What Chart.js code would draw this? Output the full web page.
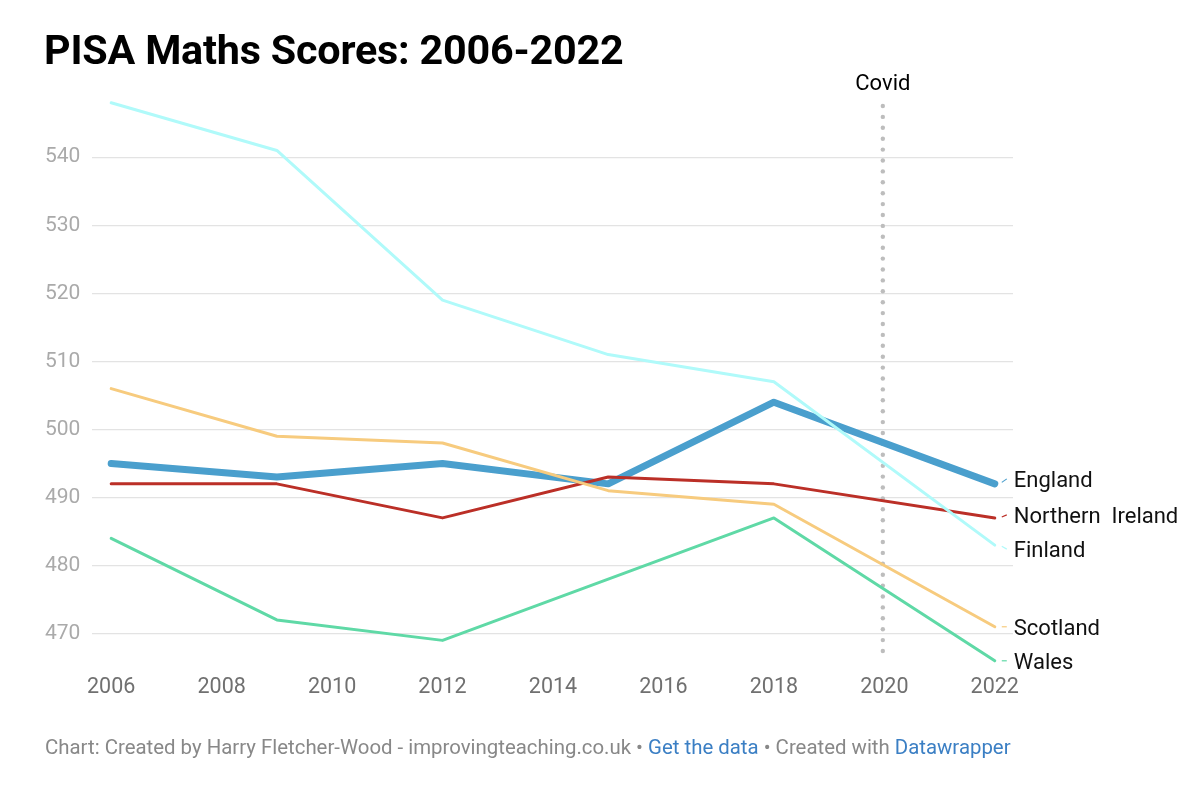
<!DOCTYPE html>
<html>
<head>
<meta charset="utf-8">
<script src="https://cdn.jsdelivr.net/npm/chart.js@4.4.0/dist/chart.umd.min.js"></script>
<style>
  html, body { margin:0; padding:0; background:#fff; width:1200px; height:788px; overflow:hidden; font-family: Roboto, sans-serif; }
  #title { position:absolute; left:44px; top:26px; font-size:41.3px; font-weight:700; color:#000; letter-spacing:-0.2px; }
  #wrap { position:absolute; left:0; top:0; width:1200px; height:788px; }
  #footer { position:absolute; left:45px; top:735px; font-size:20.4px; color:#888; }
  #footer .lnk { color:#3b7fc4; }
</style>
</head>
<body>
<div id="wrap"><canvas id="c" width="1200" height="788"></canvas></div>
<div id="title">PISA Maths Scores: 2006-2022</div>
<div id="footer">Chart: Created by Harry Fletcher-Wood - improvingteaching.co.uk • <span class="lnk">Get the data</span> • Created with <span class="lnk">Datawrapper</span></div>
<script>
const years = [2006, 2009, 2012, 2015, 2018, 2022];
const xTicks = [2006, 2008, 2010, 2012, 2014, 2016, 2018, 2020, 2022];
const yTicks = [470, 480, 490, 500, 510, 520, 530, 540];
const finland = [548, 541, 519, 511, 507, 483];
const england = [495, 493, 495, 492, 504, 492];
const scotland = [506, 499, 498, 491, 489, 471];
const northernIreland = [492, 492, 487, 493, 492, 487];
const wales = [484, 472, 469, 478, 487, 466];
const covidYear = 2020;
const covidLabel = 'Covid';

function pts(arr) { return years.map((y, i) => ({ x: y, y: arr[i] })); }

const series = [
  { label: 'Finland', data: finland, color: '#b0fafa', width: 3, nudge: 4 },
  { label: 'Scotland', data: scotland, color: '#f7cb7e', width: 3, nudge: 0 },
  { label: 'Wales', data: wales, color: '#5fd9a6', width: 3, nudge: 0 },
  { label: 'Northern  Ireland', data: northernIreland, color: '#bb2f27', width: 3, nudge: -3 },
  { label: 'England', data: england, color: '#4a9fcd', width: 7, nudge: -5 },
];

const covidPlugin = {
  id: 'covid',
  beforeDatasetsDraw(chart) {
    const { ctx, scales } = chart;
    const x = scales.x.getPixelForValue(covidYear) - 1.5;
    const top = 106, bottom = chart.chartArea.bottom - 8;
    ctx.save();
    ctx.fillStyle = '#bdbdbd';
    for (let y = top; y <= bottom; y += 10.9) {
      ctx.beginPath();
      ctx.arc(x, y, 2.2, 0, Math.PI * 2);
      ctx.fill();
    }
    ctx.fillStyle = '#000';
    ctx.font = '22px Roboto';
    ctx.textAlign = 'center';
    ctx.textBaseline = 'middle';
    ctx.fillText(covidLabel, x, 84);
    ctx.restore();
  }
};

const labelPlugin = {
  id: 'endLabels',
  afterDatasetsDraw(chart) {
    const { ctx } = chart;
    ctx.save();
    ctx.font = '22px Roboto';
    ctx.textBaseline = 'middle';
    ctx.textAlign = 'left';
    chart.data.datasets.forEach((ds, i) => {
      const meta = chart.getDatasetMeta(i);
      const p = meta.data[meta.data.length - 1];
      const s = series[i];
      const ly = p.y + s.nudge;
      ctx.strokeStyle = s.color;
      ctx.lineWidth = 1.2;
      ctx.beginPath();
      ctx.moveTo(p.x + 7, p.y + (ly - p.y) * 0.3);
      ctx.lineTo(p.x + 12, ly);
      ctx.stroke();
      ctx.fillStyle = '#111';
      ctx.fillText(s.label, p.x + 19, ly + 2.5);
    });
    ctx.restore();
  }
};

new Chart(document.getElementById('c'), {
  type: 'line',
  data: {
    datasets: series.map(s => ({
      label: s.label,
      data: pts(s.data),
      borderColor: s.color,
      backgroundColor: s.color,
      borderWidth: s.width,
      pointRadius: 0,
      tension: 0,
      borderCapStyle: 'round',
      borderJoinStyle: 'round',
    }))
  },
  options: {
    responsive: false,
    animation: false,
    layout: { padding: { left: 33, right: 187, top: 96, bottom: 84 } },
    plugins: { legend: { display: false }, tooltip: { enabled: false } },
    scales: {
      x: {
        type: 'linear',
        min: 2005.66,
        max: 2022.33,
        afterBuildTicks(scale) { scale.ticks = xTicks.map(v => ({ value: v })); },
        grid: { display: false },
        border: { display: false },
        ticks: { color: '#707070', font: { family: 'Roboto', size: 21.5 }, padding: 3, autoSkip: false, maxRotation: 0, callback: v => String(v) },
      },
      y: {
        min: 465.5,
        max: 549,
        afterBuildTicks(scale) { scale.ticks = yTicks.map(v => ({ value: v })); },
        grid: { color: '#e3e3e3', lineWidth: 1.2, drawTicks: false },
        border: { display: false },
        ticks: { color: '#aaaaaa', font: { family: 'Roboto', size: 21 }, padding: 12 },
      }
    }
  },
  plugins: [covidPlugin, labelPlugin]
});
</script>
</body>
</html>
